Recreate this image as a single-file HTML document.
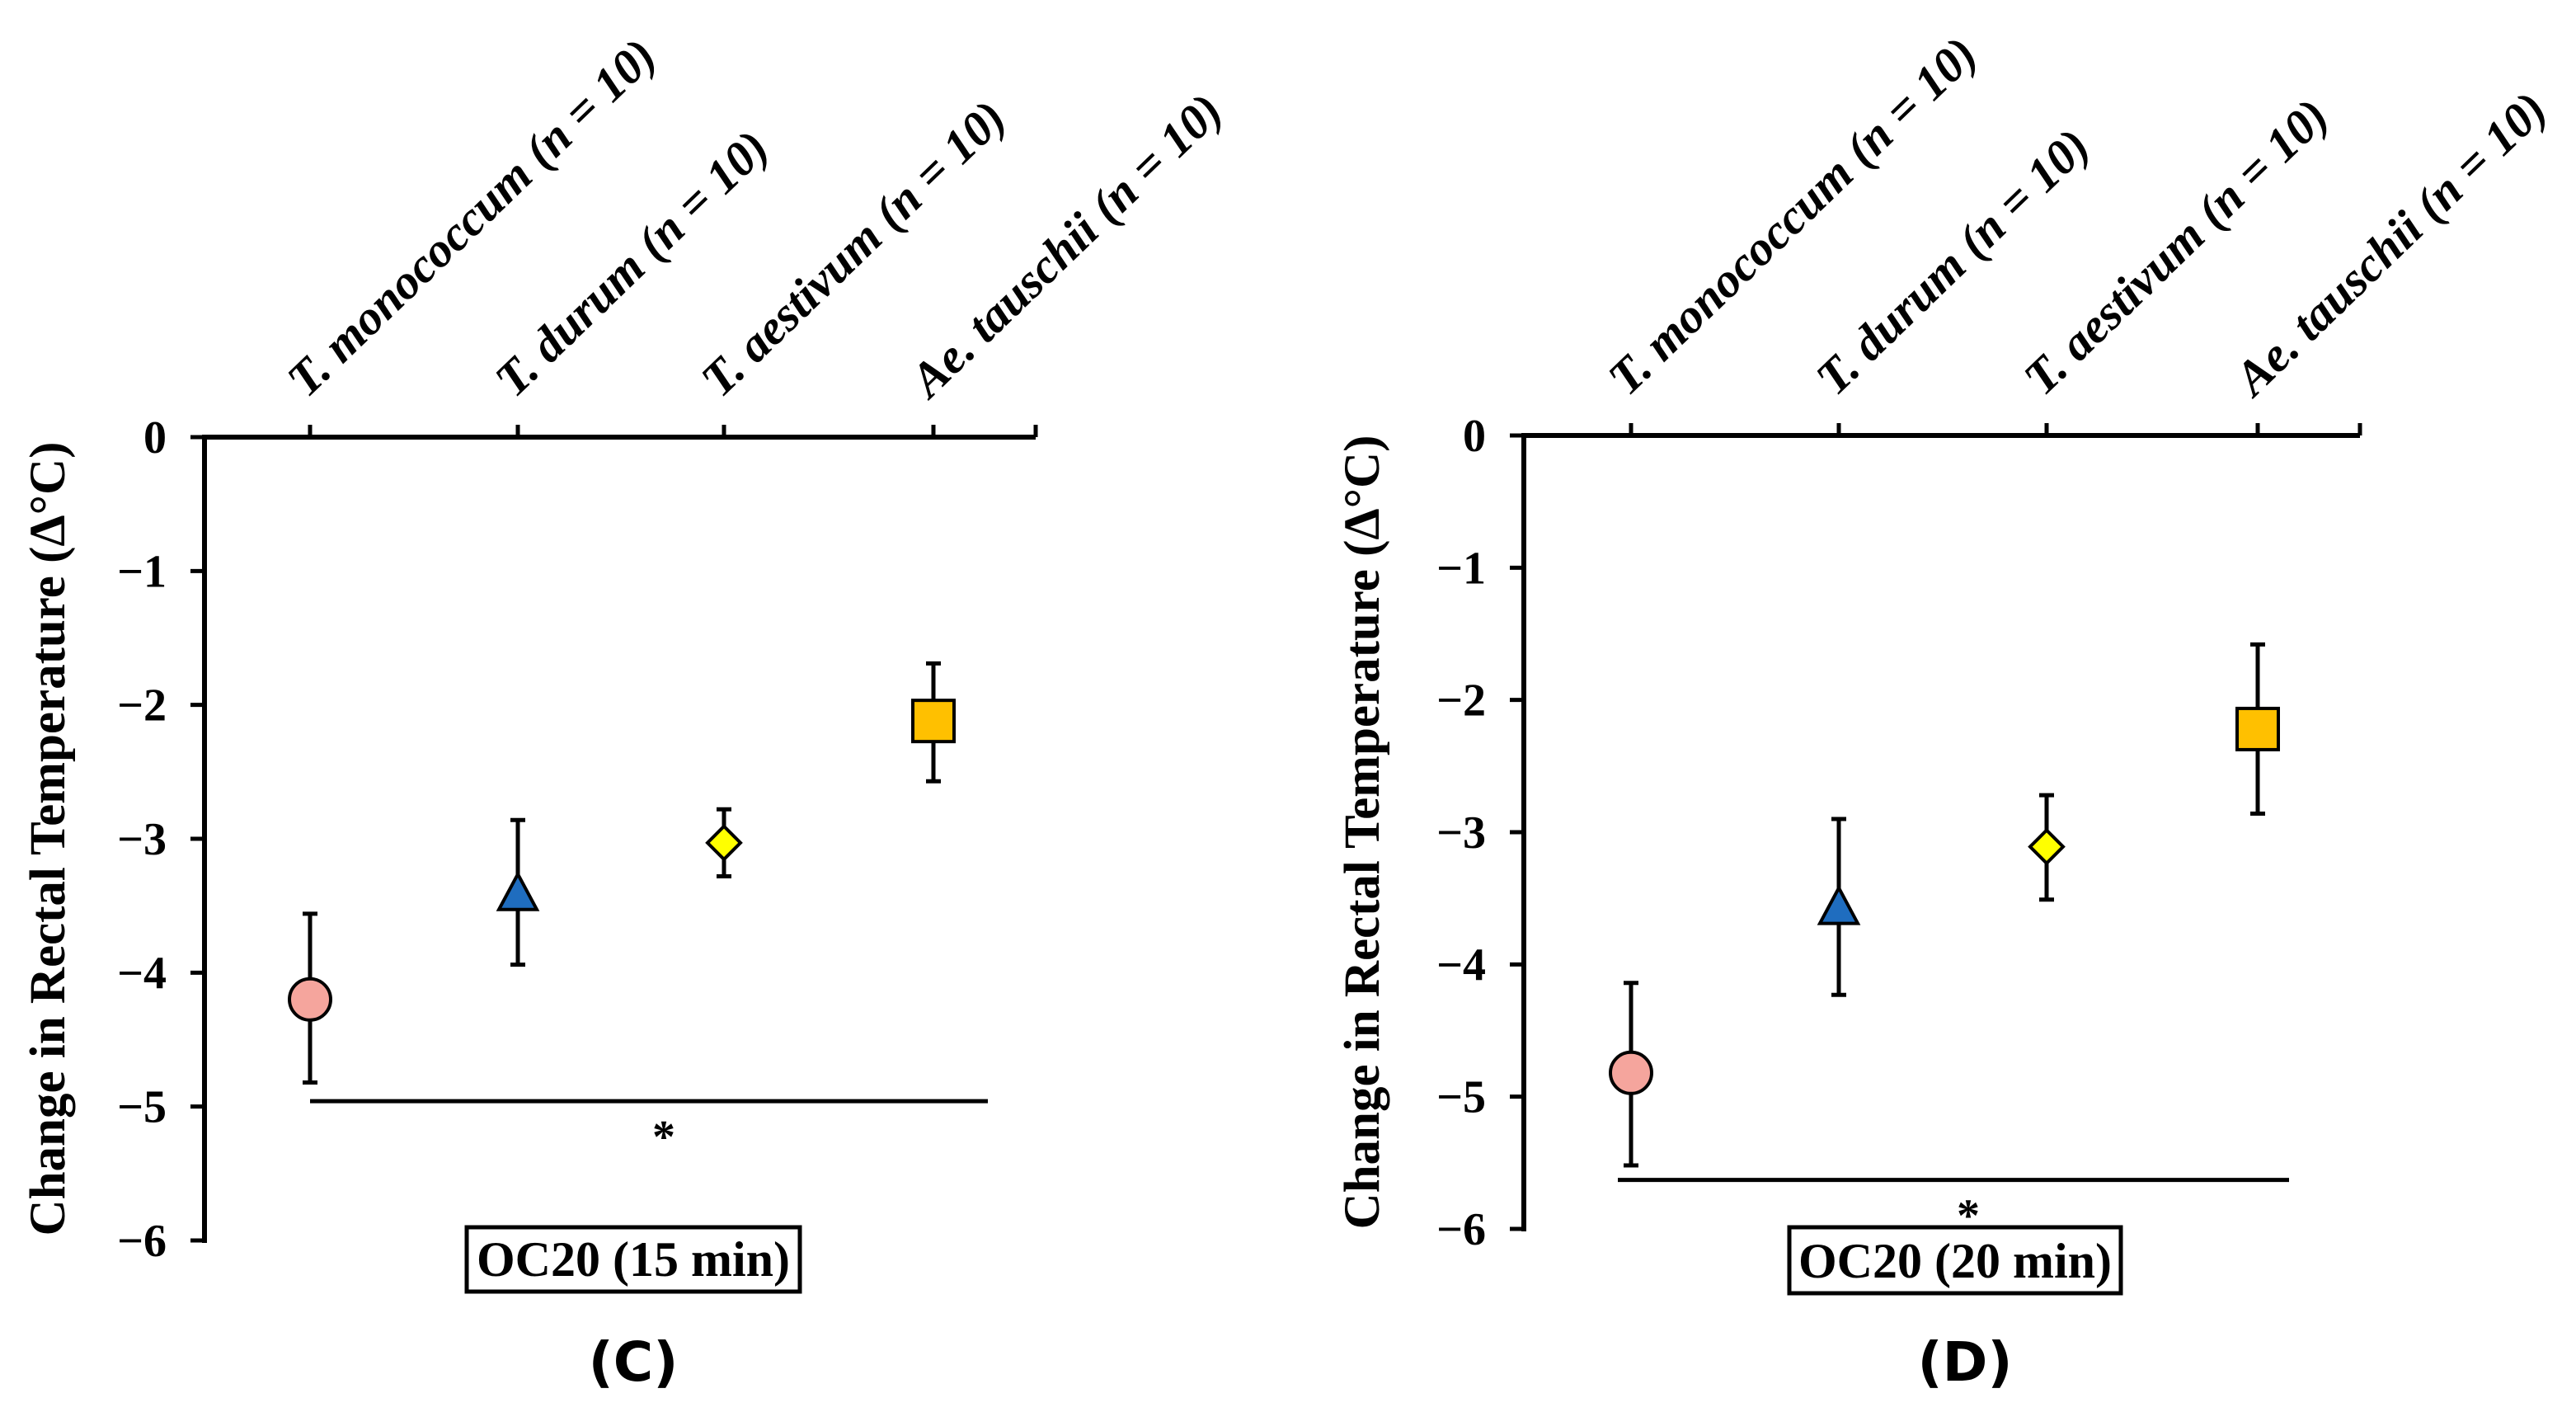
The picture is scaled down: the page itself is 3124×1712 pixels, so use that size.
<!DOCTYPE html>
<html><head><meta charset="utf-8"><style>
html,body{margin:0;padding:0;background:#fff;}
svg{display:block;}
text{font-family:"Liberation Serif",serif;font-weight:bold;fill:#000;}
</style></head><body>
<svg id="fig" width="3124" height="1712" viewBox="0 0 3124 1712" xmlns="http://www.w3.org/2000/svg"></svg>
<script>
const categories = ["T. monococcum", "T. durum", "T. aestivum", "Ae. tauschii"];
const yTicks = [0, -1, -2, -3, -4, -5, -6];
const meansC = [-4.2, -3.43, -3.03, -2.12];
const upperC = [-3.56, -2.86, -2.78, -1.69];
const lowerC = [-4.82, -3.94, -3.28, -2.57];
const meansD = [-4.82, -3.59, -3.11, -2.22];
const upperD = [-4.14, -2.90, -2.72, -1.58];
const lowerD = [-5.52, -4.23, -3.51, -2.86];
const sigC = -4.96;
const sigD = -5.63;

const NS = "http://www.w3.org/2000/svg";
const svg = document.getElementById("fig");
function mk(tag, attrs, parent) {
  const e = document.createElementNS(NS, tag);
  for (const k in attrs) e.setAttribute(k, attrs[k]);
  (parent || svg).appendChild(e);
  return e;
}

const panels = [
  {id:"c", means:meansC, upper:upperC, lower:lowerC, sig:sigC,
   axX:248, y0:530, y6:1504, right:1256, cats:[376,628,878,1132], sigX:[376,1198],
   title:"OC20 (15 min)", box:[566,1488,404,78], letter:"(C)", letterX:768, ytitleX:58},
  {id:"d", means:meansD, upper:upperD, lower:lowerD, sig:sigD,
   axX:1848, y0:528, y6:1490, right:2862, cats:[1978,2230,2482,2738], sigX:[1962,2776],
   title:"OC20 (20 min)", box:[2170,1488,402,80], letter:"(D)", letterX:2383, ytitleX:1652}
];
const colors = ["#f5a59d", "#1f6dbf", "#ffff00", "#ffc000"];

panels.forEach(p => {
  const g = mk("g", {});
  
  
  const ys = v => p.y0 + (p.y6 - p.y0) * (v / -6);

  const ya = mk("line", {x1:p.axX, y1:p.y0-3, x2:p.axX, y2:p.y6+3, stroke:"#000", "stroke-width":6}, g);
  
  
  const xa = mk("line", {x1:p.axX-3, y1:p.y0, x2:p.right, y2:p.y0, stroke:"#000", "stroke-width":6}, g);
  
  
  mk("line", {x1:p.right, y1:p.y0, x2:p.right, y2:p.y0-15, stroke:"#000", "stroke-width":5}, g);

  yTicks.forEach(t => {
    const y = ys(t);
    mk("line", {x1:p.axX-17, y1:y, x2:p.axX, y2:y, stroke:"#000", "stroke-width":5}, g);
    const tl = mk("text", {x:p.axX-46, y:y+19, "text-anchor":"end", "font-size":56}, g);
    tl.textContent = t === 0 ? "0" : "\u2212" + Math.abs(t);
    
    
  });

  const yt = mk("text", {x:0, y:0, "text-anchor":"middle", "font-size":61,
    transform:`translate(${p.ytitleX + 20},${(p.y0+p.y6)/2}) rotate(-90)`}, g);
  yt.textContent = "Change in Rectal Temperature (\u0394\u00B0C)";
  
  

  categories.forEach((c, i) => {
    const x = p.cats[i];
    mk("line", {x1:x, y1:p.y0, x2:x, y2:p.y0-15, stroke:"#000", "stroke-width":5}, g);
    const t = mk("text", {x:0, y:0, "font-size":59, "font-style":"italic",
      transform:`translate(${x-4},${p.y0-46}) rotate(-44)`}, g);
    
    
    t.textContent = c + " (n = 10)";
  });

  categories.forEach((c, i) => {
    const x = p.cats[i];
    const eb = mk("g", {}, g);
    
    
    mk("line", {x1:x, y1:ys(p.upper[i]), x2:x, y2:ys(p.lower[i]), stroke:"#000", "stroke-width":5}, eb);
    mk("line", {x1:x-9, y1:ys(p.upper[i]), x2:x+9, y2:ys(p.upper[i]), stroke:"#000", "stroke-width":5}, eb);
    mk("line", {x1:x-9, y1:ys(p.lower[i]), x2:x+9, y2:ys(p.lower[i]), stroke:"#000", "stroke-width":5}, eb);
    const y = ys(p.means[i]);
    let m;
    const st = {fill:colors[i], stroke:"#000", "stroke-width":4};
    if (i === 0) m = mk("circle", Object.assign({cx:x, cy:y, r:25}, st), g);
    else if (i === 1) m = mk("polygon", Object.assign({points:`${x},${y-27} ${x+23},${y+16} ${x-23},${y+16}`}, st), g);
    else if (i === 2) m = mk("polygon", Object.assign({points:`${x},${y-20} ${x+20},${y} ${x},${y+20} ${x-20},${y}`}, st), g);
    else m = mk("rect", Object.assign({x:x-25, y:y-25, width:50, height:50}, st), g);
    
    
  });

  const sl = mk("line", {x1:p.sigX[0], y1:ys(p.sig), x2:p.sigX[1], y2:ys(p.sig), stroke:"#000", "stroke-width":5}, g);
  
  
  const ast = mk("text", {x:(p.sigX[0]+p.sigX[1])/2 + 18, y:ys(p.sig)+62, "text-anchor":"middle", "font-size":56}, g);
  ast.textContent = "*";
  
  

  const b = p.box;
  const br = mk("rect", {x:b[0], y:b[1], width:b[2], height:b[3], fill:"#fff", stroke:"#000", "stroke-width":5}, g);
  
  
  const bt = mk("text", {x:b[0]+b[2]/2, y:b[1]+b[3]-19, "text-anchor":"middle", "font-size":60}, g);
  bt.textContent = p.title;
  
  

  const lt = mk("text", {x:p.letterX, y:1674, "text-anchor":"middle", "font-size":66,
    style:"font-family:'DejaVu Sans','Liberation Sans',sans-serif;font-weight:bold"}, g);
  lt.textContent = p.letter;
  
  
});
</script>
</body></html>
